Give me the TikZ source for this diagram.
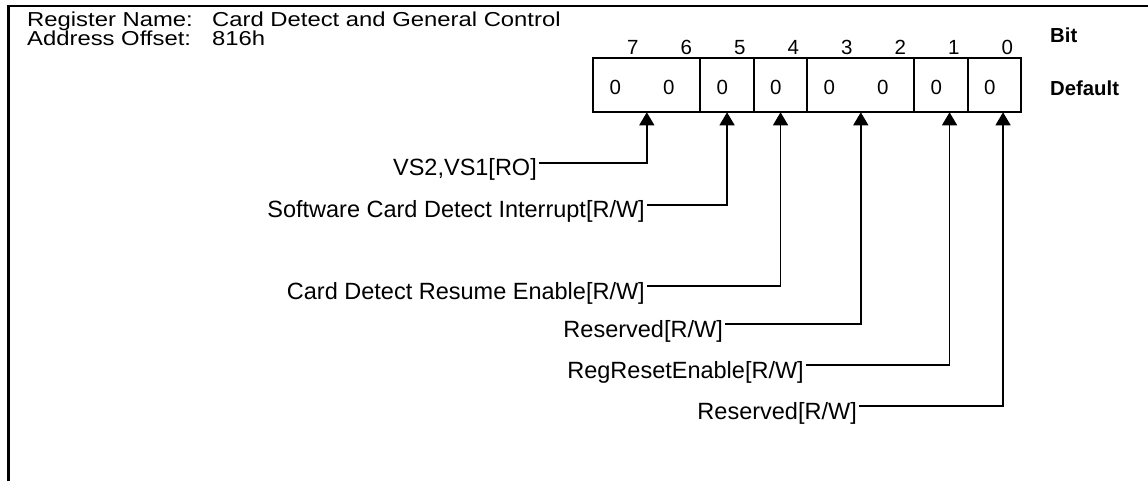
\documentclass[tikz,border=0pt]{standalone}
\usepackage{fontspec}
\setmainfont{Liberation Sans}
\newfontfamily\largafont{Liberation Sans}[FakeStretch=1.18]
\usepackage{tikz}
\usetikzlibrary{arrows.meta,positioning}

\tikzset{
    cabec/.style={anchor=base west, inner sep=0pt, font=\largafont\fontsize{20.2}{24}\selectfont},
    celula/.style={draw, line width=2pt, outer sep=0pt, inner sep=0pt, minimum height=54pt, minimum width=53.5pt},
    bitnum/.style={anchor=base, inner sep=0pt, font=\fontsize{20.5}{24}\selectfont},
    titulo/.style={anchor=base west, inner sep=0pt, font=\fontsize{20.3}{24}\selectfont\bfseries},
    rotulo/.style={anchor=east, inner sep=2pt, text height=30pt, text depth=4pt, font=\fontsize{23.5}{28}\selectfont},
    ligacao/.style={line width=1.4pt, -{Triangle[width=15pt,length=13pt]}}
}

\begin{document}
\begin{tikzpicture}[x=1pt,y=-1pt]
        \useasboundingbox (0,0) rectangle (1148,481);
        % Moldura
        \draw[line width=2.6pt] (8.3,481) -- (8.3,6) -- (1148,6);
        % Cabeçalho
        \node[cabec] (nomeTit) at (27,27) {Register Name:};
        \node[cabec] (nome) at (212,27) {Card Detect and General Control};
        \node[cabec] (endTit) at (27,46) {Address Offset:};
        \node[cabec] (ender) at (212,46) {816h};
        % Campos do registrador
        \node[celula, minimum width=107pt, anchor=north west] (c76) at (593.3,58.3) {};
        \node[celula, right=0pt of c76] (c5) {};
        \node[celula, right=0pt of c5] (c4) {};
        \node[celula, minimum width=107pt, right=0pt of c4] (c32) {};
        \node[celula, right=0pt of c32] (c1) {};
        \node[celula, right=0pt of c1] (c0) {};
        % Números dos bits
        \node[bitnum] (b7) at (632.9,55) {7};
        \node[bitnum] (b6) at (686.4,55) {6};
        \node[bitnum] (b5) at (739.9,55) {5};
        \node[bitnum] (b4) at (793.4,55) {4};
        \node[bitnum] (b3) at (846.9,55) {3};
        \node[bitnum] (b2) at (900.4,55) {2};
        \node[bitnum] (b1) at (953.9,55) {1};
        \node[bitnum] (b0) at (1007.4,55) {0};
        \node[titulo] (bitTit) at (1050,43) {Bit};
        % Valores padrão
        \node[bitnum] (v7) at (615.2,95) {0};
        \node[bitnum] (v6) at (668.7,95) {0};
        \node[bitnum] (v5) at (722.2,95) {0};
        \node[bitnum] (v4) at (775.7,95) {0};
        \node[bitnum] (v3) at (829.2,95) {0};
        \node[bitnum] (v2) at (882.7,95) {0};
        \node[bitnum] (v1) at (936.2,95) {0};
        \node[bitnum] (v0) at (989.7,95) {0};
        \node[titulo] (padrao) at (1050,96) {Default};
        % Descrição dos campos
        \node[rotulo] (vs) at (539,163) {VS2,VS1[RO]};
        \node[rotulo] (swint) at (647,205) {Software Card Detect Interrupt[R/W]};
        \node[rotulo] (resume) at (647,286) {Card Detect Resume Enable[R/W]};
        \node[rotulo] (res32) at (725,324) {Reserved[R/W]};
        \node[rotulo] (regrst) at (806,365) {RegResetEnable[R/W]};
        \node[rotulo] (res0) at (859,406) {Reserved[R/W]};
        % Setas até os campos
        \draw[ligacao] (vs.east) -| (c76.south);
        \draw[ligacao] (swint.east) -| (c5.south);
        \draw[ligacao] (resume.east) -| (c4.south);
        \draw[ligacao] (res32.east) -| (c32.south);
        \draw[ligacao] (regrst.east) -| ([xshift=8.5pt]c1.south);
        \draw[ligacao] (res0.east) -| ([xshift=8.5pt]c0.south);
    \end{tikzpicture}
\end{document}
